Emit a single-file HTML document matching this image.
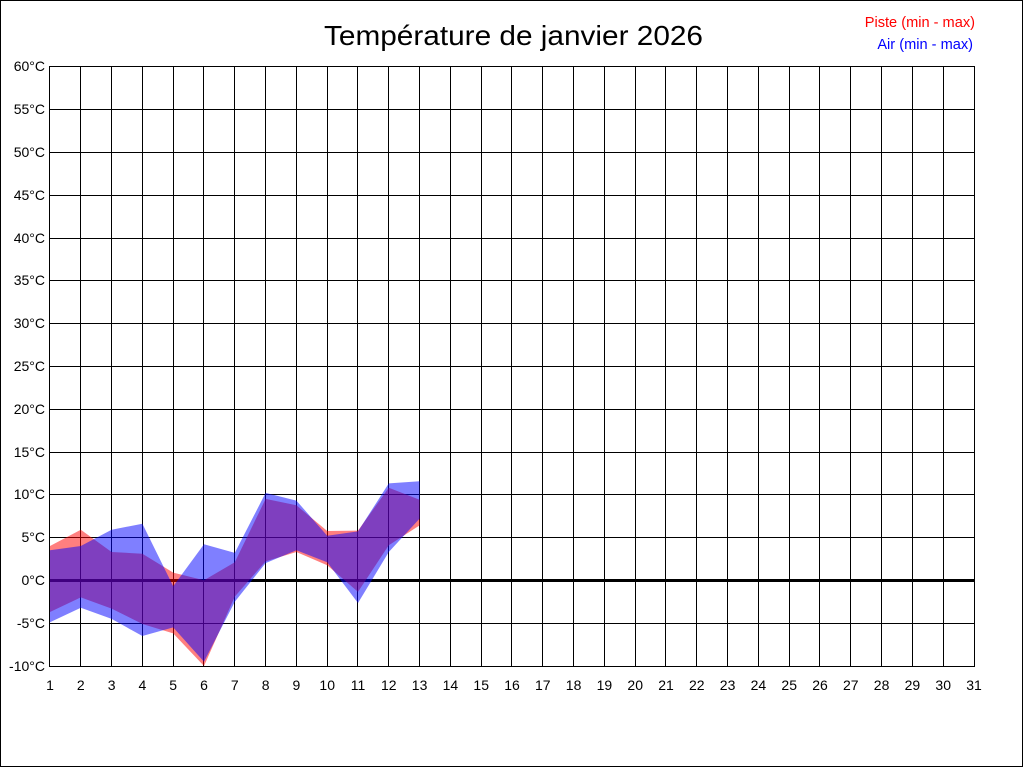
<!DOCTYPE html>
<html>
<head>
<meta charset="utf-8">
<style>
  html, body { margin:0; padding:0; background:#fff; }
  svg { display:block; }
  text { font-family: "Liberation Sans", Arial, sans-serif; }
</style>
</head>
<body>
<svg width="1024" height="768" viewBox="0 0 1024 768" xmlns="http://www.w3.org/2000/svg">
  <rect x="0" y="0" width="1024" height="768" fill="#ffffff"/>
  <rect x="0.5" y="0.5" width="1022" height="766" fill="none" stroke="#000" stroke-width="1"/>

  <text x="324" y="45" font-size="28" fill="#000" textLength="379" lengthAdjust="spacingAndGlyphs">Température de janvier 2026</text>

  <text x="975" y="27" font-size="14.6" fill="#ff0000" text-anchor="end">Piste (min - max)</text>
  <text x="973" y="49" font-size="14.6" fill="#0000ff" text-anchor="end">Air (min - max)</text>

  <g stroke="#000" stroke-width="1" shape-rendering="crispEdges">
    <line x1="49.5" y1="66.5" x2="974.5" y2="66.5"/>
    <line x1="49.5" y1="109.5" x2="974.5" y2="109.5"/>
    <line x1="49.5" y1="152.5" x2="974.5" y2="152.5"/>
    <line x1="49.5" y1="195.5" x2="974.5" y2="195.5"/>
    <line x1="49.5" y1="238.5" x2="974.5" y2="238.5"/>
    <line x1="49.5" y1="280.5" x2="974.5" y2="280.5"/>
    <line x1="49.5" y1="323.5" x2="974.5" y2="323.5"/>
    <line x1="49.5" y1="366.5" x2="974.5" y2="366.5"/>
    <line x1="49.5" y1="409.5" x2="974.5" y2="409.5"/>
    <line x1="49.5" y1="452.5" x2="974.5" y2="452.5"/>
    <line x1="49.5" y1="494.5" x2="974.5" y2="494.5"/>
    <line x1="49.5" y1="537.5" x2="974.5" y2="537.5"/>
    <line x1="49.5" y1="623.5" x2="974.5" y2="623.5"/>
    <line x1="49.5" y1="666.5" x2="974.5" y2="666.5"/>
    <line x1="49.5" y1="66" x2="49.5" y2="667"/>
    <line x1="80.5" y1="66" x2="80.5" y2="667"/>
    <line x1="111.5" y1="66" x2="111.5" y2="667"/>
    <line x1="142.5" y1="66" x2="142.5" y2="667"/>
    <line x1="173.5" y1="66" x2="173.5" y2="667"/>
    <line x1="203.5" y1="66" x2="203.5" y2="667"/>
    <line x1="234.5" y1="66" x2="234.5" y2="667"/>
    <line x1="265.5" y1="66" x2="265.5" y2="667"/>
    <line x1="296.5" y1="66" x2="296.5" y2="667"/>
    <line x1="327.5" y1="66" x2="327.5" y2="667"/>
    <line x1="357.5" y1="66" x2="357.5" y2="667"/>
    <line x1="388.5" y1="66" x2="388.5" y2="667"/>
    <line x1="419.5" y1="66" x2="419.5" y2="667"/>
    <line x1="450.5" y1="66" x2="450.5" y2="667"/>
    <line x1="481.5" y1="66" x2="481.5" y2="667"/>
    <line x1="511.5" y1="66" x2="511.5" y2="667"/>
    <line x1="542.5" y1="66" x2="542.5" y2="667"/>
    <line x1="573.5" y1="66" x2="573.5" y2="667"/>
    <line x1="604.5" y1="66" x2="604.5" y2="667"/>
    <line x1="635.5" y1="66" x2="635.5" y2="667"/>
    <line x1="665.5" y1="66" x2="665.5" y2="667"/>
    <line x1="696.5" y1="66" x2="696.5" y2="667"/>
    <line x1="727.5" y1="66" x2="727.5" y2="667"/>
    <line x1="758.5" y1="66" x2="758.5" y2="667"/>
    <line x1="789.5" y1="66" x2="789.5" y2="667"/>
    <line x1="819.5" y1="66" x2="819.5" y2="667"/>
    <line x1="850.5" y1="66" x2="850.5" y2="667"/>
    <line x1="881.5" y1="66" x2="881.5" y2="667"/>
    <line x1="912.5" y1="66" x2="912.5" y2="667"/>
    <line x1="943.5" y1="66" x2="943.5" y2="667"/>
    <line x1="974.5" y1="66" x2="974.5" y2="667"/>
  </g>
  <rect x="49" y="579" width="926" height="3" fill="#000"/>

  <polygon fill="#ff0000" fill-opacity="0.5" points="50,546.0 80.8,529.7 111.6,552.0 142.4,553.7 173.2,572.6 204,580.3 234.8,562.3 265.6,498.9 296.4,505.3 327.2,531.0 358,530.6 388.8,487.7 419.6,499.7 419.6,525.4 388.8,545.2 358,591.9 327.2,565.3 296.4,552.0 265.6,561.4 234.8,596.6 204,666.0 173.2,633.4 142.4,624.0 111.6,608.6 80.8,597.4 50,612.0"/>
  <polygon fill="#0000ff" fill-opacity="0.5" points="50,550.3 80.8,546.0 111.6,529.7 142.4,523.7 173.2,586.3 204,544.3 234.8,552.9 265.6,492.9 296.4,500.6 327.2,535.7 358,531.4 388.8,483.4 419.6,481.3 419.6,518.6 388.8,552.0 358,603.0 327.2,562.3 296.4,550.3 265.6,563.1 234.8,601.7 204,661.7 173.2,627.4 142.4,636.0 111.6,618.9 80.8,607.7 50,622.3"/>

  <g font-size="14" fill="#000" text-anchor="end">
    <text x="45" y="71">60°C</text>
    <text x="45" y="114">55°C</text>
    <text x="45" y="157">50°C</text>
    <text x="45" y="200">45°C</text>
    <text x="45" y="243">40°C</text>
    <text x="45" y="285">35°C</text>
    <text x="45" y="328">30°C</text>
    <text x="45" y="371">25°C</text>
    <text x="45" y="414">20°C</text>
    <text x="45" y="457">15°C</text>
    <text x="45" y="499">10°C</text>
    <text x="45" y="542">5°C</text>
    <text x="45" y="585">0°C</text>
    <text x="45" y="628">-5°C</text>
    <text x="45" y="671">-10°C</text>
  </g>

  <g font-size="14" fill="#000" text-anchor="middle">
    <text x="50" y="690">1</text>
    <text x="80.8" y="690">2</text>
    <text x="111.6" y="690">3</text>
    <text x="142.4" y="690">4</text>
    <text x="173.2" y="690">5</text>
    <text x="204" y="690">6</text>
    <text x="234.8" y="690">7</text>
    <text x="265.6" y="690">8</text>
    <text x="296.4" y="690">9</text>
    <text x="327.2" y="690">10</text>
    <text x="358" y="690">11</text>
    <text x="388.8" y="690">12</text>
    <text x="419.6" y="690">13</text>
    <text x="450.4" y="690">14</text>
    <text x="481.2" y="690">15</text>
    <text x="512" y="690">16</text>
    <text x="542.8" y="690">17</text>
    <text x="573.6" y="690">18</text>
    <text x="604.4" y="690">19</text>
    <text x="635.2" y="690">20</text>
    <text x="666" y="690">21</text>
    <text x="696.8" y="690">22</text>
    <text x="727.6" y="690">23</text>
    <text x="758.4" y="690">24</text>
    <text x="789.2" y="690">25</text>
    <text x="820" y="690">26</text>
    <text x="850.8" y="690">27</text>
    <text x="881.6" y="690">28</text>
    <text x="912.4" y="690">29</text>
    <text x="943.2" y="690">30</text>
    <text x="974" y="690">31</text>
  </g>
</svg>
</body>
</html>
